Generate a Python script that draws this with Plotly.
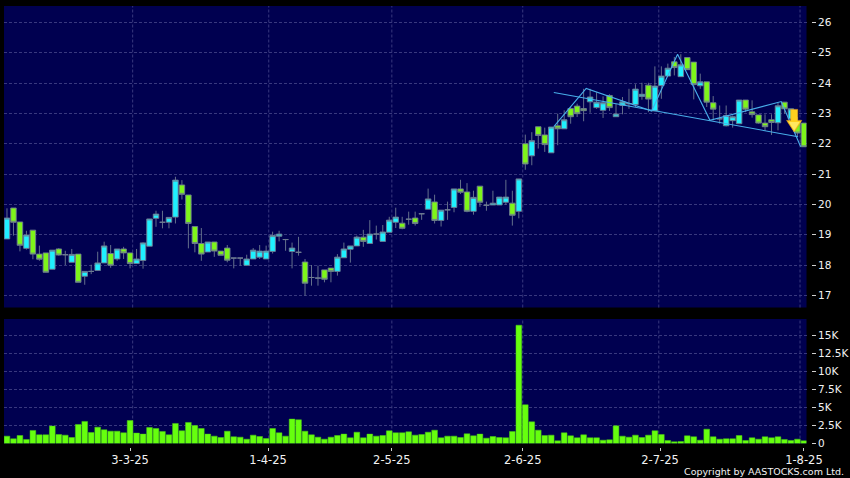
import plotly.graph_objects as go

opens = [18.86,19.88,19.42,18.55,19.15,18.36,18.40,17.86,18.53,18.34,
18.09,18.36,17.63,17.79,17.82,18.07,18.38,18.20,18.53,18.40,
18.05,18.15,18.62,19.54,19.41,19.41,19.58,20.64,20.31,19.27,
18.71,18.43,18.76,18.46,18.56,18.23,18.23,17.99,18.20,18.26,
18.20,18.45,18.95,18.84,18.45,18.42,18.10,17.59,17.57,17.84,
17.90,17.79,18.24,18.52,18.63,18.92,18.71,19.02,18.78,19.08,
19.41,19.38,19.51,19.55,19.69,19.84,20.08,19.47,19.82,19.90,
20.51,20.41,19.77,20.60,19.97,19.98,19.98,20.07,20.04,19.77,
22.00,21.60,22.56,22.29,21.70,22.59,22.49,23.16,23.24,23.16,
23.38,23.19,23.10,23.59,22.89,23.26,23.32,23.29,23.56,23.93,
23.08,23.92,24.23,24.70,24.21,24.84,24.69,23.91,24.04,23.35,
22.82,22.59,22.76,22.66,23.44,23.05,22.95,22.68,22.79,22.69,
23.37,22.82,22.71,22.68]
closes = [19.55,19.41,18.65,18.99,18.36,18.19,17.76,18.49,18.33,18.34,
18.35,17.43,17.79,17.79,18.07,18.63,17.99,18.53,18.40,18.05,
18.20,18.73,19.52,19.68,19.41,19.57,20.80,20.33,19.37,18.71,
18.36,18.76,18.46,18.32,18.16,18.23,18.23,18.20,18.49,18.46,
18.46,18.97,19.02,18.84,18.56,18.42,17.40,17.59,17.57,17.53,
17.79,18.26,18.53,18.63,18.92,18.78,19.02,19.02,19.09,19.48,
19.58,19.21,19.51,19.37,19.69,20.18,19.47,19.81,19.82,20.51,
20.40,19.77,20.23,20.07,19.97,20.04,20.24,20.24,19.64,20.84,
21.33,22.10,22.27,21.97,22.55,22.49,22.79,22.89,22.99,23.09,
23.54,23.37,23.35,23.19,22.98,23.38,23.32,23.80,23.63,23.47,
23.90,24.23,24.49,24.51,24.60,24.44,23.95,24.04,23.37,23.14,
22.82,22.93,22.89,23.44,23.14,22.96,22.68,22.56,22.70,23.25,
23.15,23.15,22.35,21.90]
highs = [19.87,19.88,19.42,19.13,19.15,18.64,18.40,18.49,18.56,18.47,
18.53,18.36,17.79,18.01,18.44,18.77,18.66,18.53,18.60,18.40,
18.53,18.75,19.52,19.79,19.79,19.57,20.91,20.80,20.31,19.27,
19.22,18.76,18.76,18.46,18.66,18.23,18.23,18.34,18.56,18.66,
18.64,19.10,19.13,18.86,18.74,18.93,18.20,18.00,17.98,17.84,
17.90,18.36,18.74,18.63,18.97,19.16,19.48,19.30,19.32,19.59,
19.89,19.59,19.76,19.76,19.71,20.52,20.32,19.81,20.09,20.51,
20.81,20.70,20.45,20.60,20.09,20.45,20.24,20.81,20.45,20.84,
22.30,22.38,22.56,22.53,22.55,22.99,23.10,23.21,23.32,23.81,
23.81,23.70,23.56,23.63,23.32,23.54,23.81,23.96,24.01,24.01,
24.55,24.55,24.64,24.86,24.95,24.84,24.69,24.31,24.04,23.57,
23.26,23.26,22.93,23.44,23.44,23.43,22.95,22.97,22.97,23.36,
23.37,23.15,22.88,22.68]
lows = [18.86,18.97,18.45,18.51,18.19,18.14,17.76,17.86,18.31,18.00,
18.09,17.43,17.35,17.70,17.82,18.07,17.91,18.14,18.20,17.89,
18.05,17.88,18.62,19.26,19.21,19.21,19.37,20.16,18.55,18.42,
18.14,18.43,18.27,18.32,18.09,17.89,17.98,17.99,18.20,18.20,
18.20,18.38,18.78,18.47,17.89,18.31,16.99,17.32,17.32,17.43,
17.43,17.65,18.24,18.08,18.63,18.60,18.71,18.84,18.78,19.08,
19.22,19.18,19.33,19.30,19.49,19.84,19.37,19.27,19.49,19.74,
20.34,19.74,19.66,19.92,19.79,19.98,19.98,19.98,19.30,19.54,
21.14,21.29,21.84,21.73,21.70,21.95,22.49,22.66,22.88,22.74,
23.02,23.15,22.85,23.08,22.88,22.97,23.15,23.21,23.45,23.04,
23.08,23.48,24.23,24.25,24.21,24.44,23.46,23.81,23.21,22.77,
22.66,22.57,22.53,22.66,23.04,22.86,22.66,22.42,22.29,22.44,
22.99,22.82,22.22,21.90]
volume_k = [1.02,0.65,1.11,0.56,1.81,1.20,1.20,2.41,1.25,1.16,
0.83,2.64,3.06,1.53,2.27,1.90,1.71,1.71,1.48,3.19,
1.44,1.30,2.22,2.08,1.67,1.20,2.78,1.76,2.92,2.50,
2.08,1.30,1.02,0.83,1.71,0.93,0.88,0.60,1.16,0.97,
0.69,2.08,1.48,1.02,3.38,3.29,1.71,1.20,0.88,0.60,
0.88,1.11,1.30,0.79,1.57,0.79,1.30,1.02,1.11,1.76,
1.48,1.48,1.62,1.16,1.25,1.57,1.85,0.79,1.02,1.02,
0.83,1.34,1.06,1.30,0.74,0.97,0.83,0.79,1.67,16.40,
5.37,3.00,1.85,1.11,1.16,0.37,1.48,1.06,0.79,1.20,
0.79,0.79,0.46,0.51,2.45,1.02,0.88,1.16,0.83,1.16,
1.76,1.25,0.42,0.23,0.28,1.06,0.93,0.46,1.99,0.93,
0.60,0.65,0.65,1.11,0.42,0.79,0.60,0.93,0.79,0.93,
0.56,0.42,0.60,0.37]
session = list(range(len(closes)))

trend_session = [84.4, 122.1]
trend_price = [23.69, 22.23]
zigzag_session = [84.4, 89.4, 99.5, 103.5, 108.5, 119.5, 122.5]
zigzag_price = [22.56, 23.82, 23.08, 24.95, 22.77, 23.39, 21.90]

date_labels = ["3-3-25", "1-4-25", "2-5-25", "2-6-25", "2-7-25", "1-8-25"]
date_ticks = [19.0, 40.3, 59.4, 79.6, 100.8, 123.0]
date_grid = [19.4, 40.4, 59.4, 79.6, 100.6, 122.4]
price_ticks = [17, 18, 19, 20, 21, 22, 23, 24, 25, 26]
vol_ticks = [0, 2.5, 5, 7.5, 10, 12.5, 15]
vol_labels = ["0", "2.5K", "5K", "7.5K", "10K", "12.5K", "15K"]

W, H = 850, 478
BG = "#000050"
GRID = "#38387e"
CYAN = "#1ff0ff"
GREEN = "#7ef51a"
WICK = "#6e7c92"
FONT = "DejaVu Sans"

fig = go.Figure()
fig.add_trace(go.Candlestick(
    x=session, open=opens, high=highs, low=lows, close=closes,
    xaxis="x", yaxis="y", whiskerwidth=0,
    increasing=dict(fillcolor=CYAN, line=dict(color=WICK, width=0.9)),
    decreasing=dict(fillcolor=GREEN, line=dict(color=WICK, width=0.9)),
    showlegend=False))
fig.add_trace(go.Scatter(x=trend_session, y=trend_price, mode="lines",
    line=dict(color="#48aeea", width=1.1), xaxis="x", yaxis="y", showlegend=False))
fig.add_trace(go.Scatter(x=zigzag_session, y=zigzag_price, mode="lines",
    line=dict(color="#48aeea", width=1.1), xaxis="x", yaxis="y", showlegend=False))
fig.add_trace(go.Bar(x=session, y=volume_k, xaxis="x2", yaxis="y2",
    marker=dict(color="#66ff0e", line=dict(color="#4ccc14", width=0.5)),
    showlegend=False))

shapes = []
for g in date_grid:
    for xr, yr in (("x", "y domain"), ("x2", "y2 domain")):
        shapes.append(dict(type="line", xref=xr, yref=yr, x0=g, x1=g, y0=0, y1=1,
                           layer="below", line=dict(color=GRID, width=1, dash="3px,2px")))
# sell-signal arrow, sized in pixels and anchored on the chart
shapes.append(dict(type="path", xref="x", yref="y", xsizemode="pixel", ysizemode="pixel",
                   xanchor=121.5, yanchor=23.0,
                   path="M -3.5,4 L 3.5,4 L 3.5,-7 L 7.6,-7 L 0,-18.6 L -7.6,-7 L -3.5,-7 Z",
                   fillcolor="#ffd01e", line=dict(color="#e8a020", width=0.6), layer="above"))
shapes.append(dict(type="path", xref="x", yref="y", xsizemode="pixel", ysizemode="pixel",
                   xanchor=121.5, yanchor=23.0,
                   path="M 5.4,-8.5 L 0,-17 L -5.4,-8.5 Z",
                   fillcolor="#ffe860", line=dict(width=0), layer="above"))

xrange_ = [-0.46, 123.4]
ydom = lambda top, bot: [1 - bot / H, 1 - top / H]
common_y = dict(anchor="free", side="right", position=811 / W, showgrid=True,
                gridcolor=GRID, griddash="3px,2px", gridwidth=1, zeroline=False,
                showline=False, ticks="outside", ticklen=4, tickcolor="#cfcfcf",
                tickfont=dict(family=FONT, size=10.5, color="#f2f2f2"))

fig.update_layout(
    width=W, height=H, margin=dict(l=0, r=0, t=0, b=0, autoexpand=False),
    paper_bgcolor="#000000", plot_bgcolor=BG, boxgap=0.15, boxgroupgap=0, bargap=0.12,
    hovermode=False, font=dict(family=FONT, color="#ffffff"), shapes=shapes,
    xaxis=dict(domain=[4 / W, 806.5 / W], range=xrange_, anchor="y", showgrid=False,
               showticklabels=False, ticks="", zeroline=False, rangeslider=dict(visible=False)),
    yaxis=dict(domain=ydom(6, 307.5), range=[16.60, 26.54], tickmode="array",
               tickvals=price_ticks, **common_y),
    xaxis2=dict(domain=[4 / W, 806.5 / W], range=xrange_, anchor="free",
                position=(H - 446.5) / H, showgrid=False, zeroline=False,
                tickmode="array", tickvals=date_ticks, ticktext=date_labels,
                ticks="outside", ticklen=3, tickcolor="#cfcfcf",
                tickfont=dict(family=FONT, size=11.5, color="#f2f2f2")),
    yaxis2=dict(domain=ydom(319, 443.5), range=[0, 17.26], tickmode="array",
                tickvals=vol_ticks, ticktext=vol_labels, **common_y),
    annotations=[dict(text="Copyright by AASTOCKS.com Ltd.", xref="paper", yref="paper",
                      x=846 / W, y=1 - 471 / H, xanchor="right", yanchor="middle",
                      showarrow=False, font=dict(family=FONT, size=9.5, color="#f2f2f2"))],
)
fig.write_html("out.html", config={"displayModeBar": False},
               post_script="document.body.style.margin='0';document.body.style.background='#000';document.body.style.overflow='hidden';")
